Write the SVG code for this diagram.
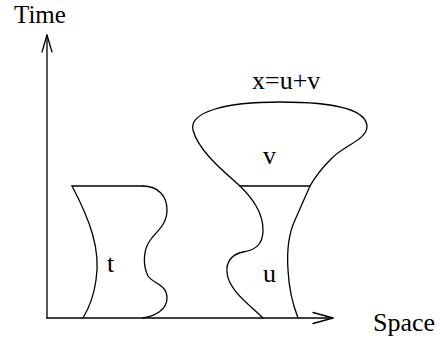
<svg xmlns="http://www.w3.org/2000/svg" width="440" height="345" viewBox="0 0 440 345">
<style>
.ln{fill:none;stroke:#000;stroke-width:1.3;stroke-linecap:round;stroke-linejoin:round}
.lb{font-family:"Liberation Serif","Times New Roman",serif;font-size:26px;fill:#000}
</style>
<rect width="440" height="345" fill="#fff"/>
<g id="connectors">
<path class="ln" d="M47,318 L47,35"/>
<path class="ln" d="M42,52 L47,35 L52,52"/>
<path class="ln" d="M47,318 L333,318"/>
<path class="ln" d="M313,312.5 L333,318 L313,323.5"/>
</g>
<g id="region-t">
<path class="ln" d="M72,186 L143,186"/>
<path class="ln" d="M72,186 C 90,220 101,250 96,280 C 94,295 89,308 83,318"/>
<path class="ln" d="M143,186 C 158,186 167,196 167,210 C 167,226 155,232 149,242 C 143,252 143,266 148,276 C 153,284 167,284 167,298 C 167,310 155,316 143,318"/>
<text class="lb" x="107" y="272">t</text>
</g>
<g id="region-x">
<path class="ln" d="M240,186 L310,186"/>
<path class="ln" d="M240,186 C 222,170 198,150 193,130 C 189,112 225,102 280,102 C 335,102 367,110 367,127 C 366,140 345,145 332,158 C 322,168 315,177 310,186"/>
<path class="ln" d="M240,186 C 252,198 263,212 263,230 C 263,245 255,250 243,252 C 232,254 226,262 227,272 C 228,290 250,305 263,318"/>
<path class="ln" d="M310,186 L295,220 C 288,235 287,255 288,270 C 289,290 293,305 298,318"/>
<text class="lb" x="263" y="164">v</text>
<text class="lb" x="263" y="282">u</text>
<text class="lb" x="252" y="89">x=u+v</text>
</g>
<g id="axis-labels">
<text class="lb" x="14" y="22.5" style="font-size:25px">Time</text>
<text class="lb" x="373" y="331">Space</text>
</g>
</svg>
